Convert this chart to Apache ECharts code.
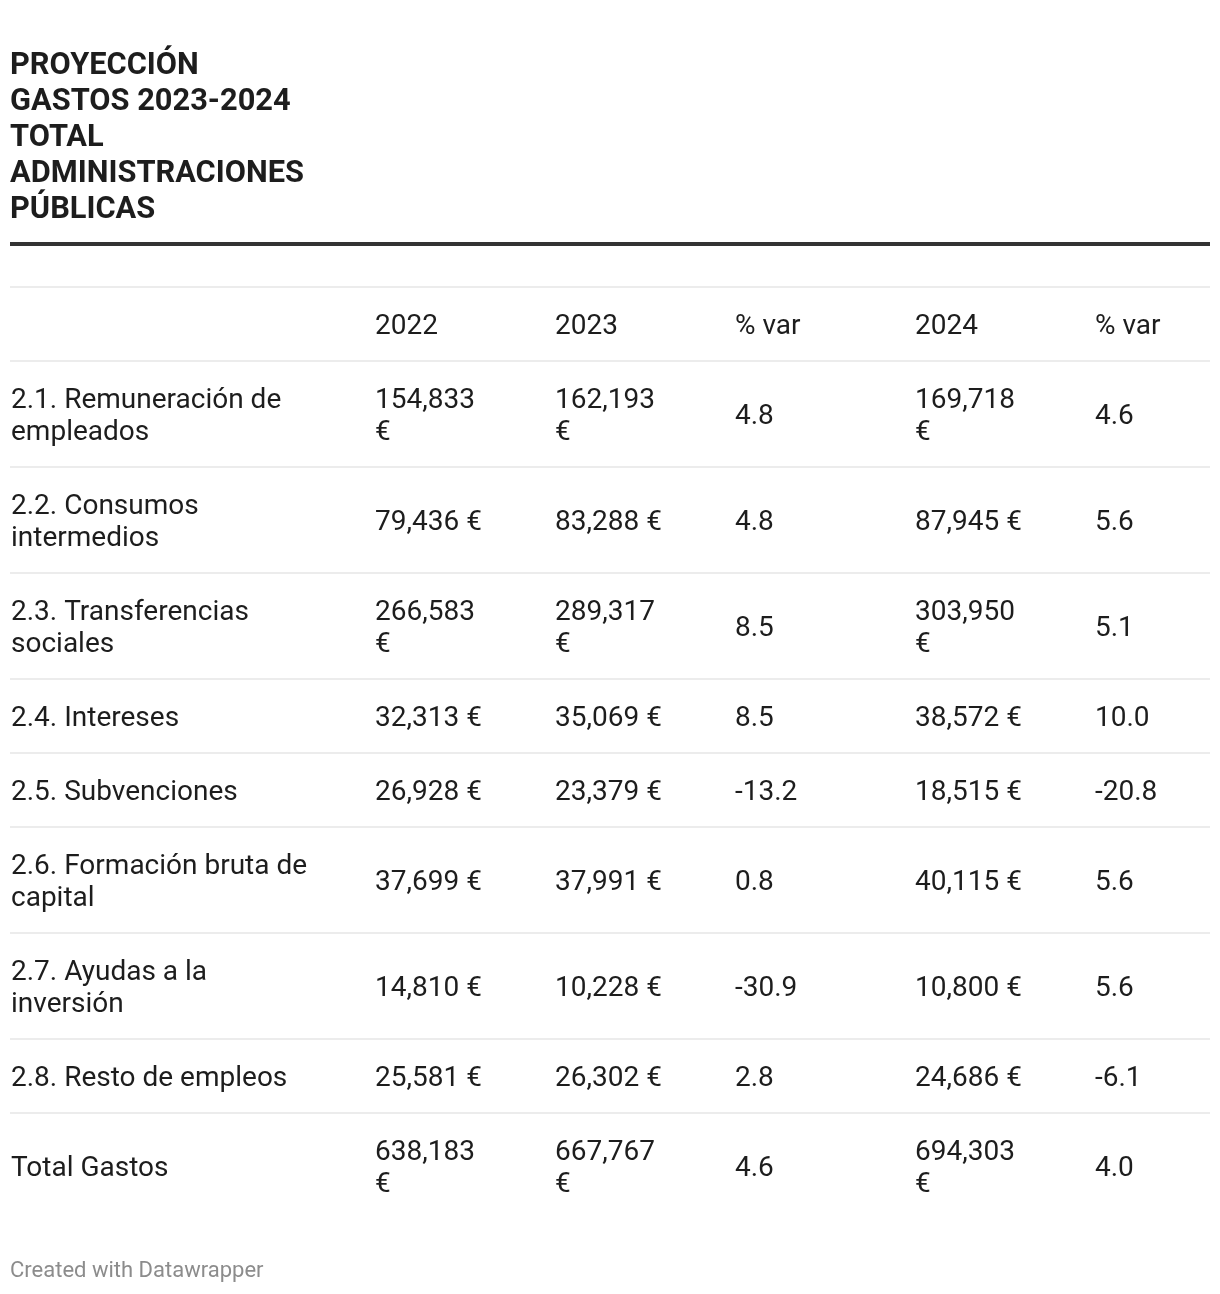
<!DOCTYPE html>
<html><head><meta charset="utf-8">
<script src="https://cdn.jsdelivr.net/npm/echarts@6/dist/echarts.min.js"></script>
<style>html,body{margin:0;padding:0;background:#fff}#c{width:1220px;height:1294px}</style>
</head><body><div id="c"></div>
<script>
// ---- data ----
const titleText = 'PROYECCIÓN\nGASTOS 2023-2024\nTOTAL\nADMINISTRACIONES\nPÚBLICAS';
const headers = ['', '2022', '2023', '% var', '2024', '% var'];
const categories = [
  '2.1. Remuneración de empleados',
  '2.2. Consumos intermedios',
  '2.3. Transferencias sociales',
  '2.4. Intereses',
  '2.5. Subvenciones',
  '2.6. Formación bruta de capital',
  '2.7. Ayudas a la inversión',
  '2.8. Resto de empleos',
  'Total Gastos'
];
const values2022 = [154833, 79436, 266583, 32313, 26928, 37699, 14810, 25581, 638183];
const values2023 = [162193, 83288, 289317, 35069, 23379, 37991, 10228, 26302, 667767];
const var2023    = [4.8, 4.8, 8.5, 8.5, -13.2, 0.8, -30.9, 2.8, 4.6];
const values2024 = [169718, 87945, 303950, 38572, 18515, 40115, 10800, 24686, 694303];
const var2024    = [4.6, 5.6, 5.1, 10.0, -20.8, 5.6, 5.6, -6.1, 4.0];
const footerText = 'Created with Datawrapper';

// ---- layout / style ----
const FONT_SIZE = 28, LINE_H = 32, ROW_PAD = 21, TEXT_DY = 3;
const FONT = FONT_SIZE + 'px Roboto';
const TABLE_W = 1200;
const colX = [1, 365, 545, 725, 905, 1085];
const colWrap = [305, 112, 112, 112, 112, 112];
const TEXT_COLOR = '#1d1d1d';
const RULE_COLOR = '#e6e6e6';

const fmtEur = v => v.toLocaleString('en-US') + ' €';
const fmtPct = v => v.toFixed(1);

const ctx = document.createElement('canvas').getContext('2d');
ctx.font = FONT;
function wrap(text, maxW) {
  if (!text) return '';
  const words = text.split(' ');
  const lines = [];
  let cur = '';
  words.forEach(w => {
    const test = cur ? cur + ' ' + w : w;
    if (cur && ctx.measureText(test).width > maxW) { lines.push(cur); cur = w; }
    else cur = test;
  });
  if (cur) lines.push(cur);
  return lines.join('\n');
}

const rows = [headers].concat(categories.map((c, i) => [
  c, fmtEur(values2022[i]), fmtEur(values2023[i]), fmtPct(var2023[i]),
  fmtEur(values2024[i]), fmtPct(var2024[i])
]));
const wrapped = rows.map(r => r.map((t, c) => wrap(t, colWrap[c])));
let acc = 0;
const rowData = wrapped.map((r, i) => {
  const n = Math.max(1, ...r.map(t => t ? t.split('\n').length : 1));
  const top = acc;
  acc += ROW_PAD * 2 + LINE_H * n;
  return [0, top, acc, i];
});
const TOTAL_H = acc;

const chart = echarts.init(document.getElementById('c'), null, {renderer: 'canvas'});
chart.setOption({
  backgroundColor: '#fff',
  animation: false,
  title: [
    { text: titleText, left: 10, top: 48, padding: 0,
      textStyle: { fontFamily: 'Roboto', fontWeight: 'bold', fontSize: 30.8, lineHeight: 36, color: TEXT_COLOR } },
    { text: footerText, left: 10, top: 1259, padding: 0,
      textStyle: { fontFamily: 'Roboto', fontWeight: 'normal', fontSize: 22, lineHeight: 24, color: '#8c8c8c' } }
  ],
  graphic: [
    { type: 'rect', shape: { x: 10, y: 242, width: 1200, height: 4 }, style: { fill: '#333' } }
  ],
  grid: { left: 10, top: 287, width: TABLE_W, height: TOTAL_H },
  xAxis: { type: 'value', min: 0, max: TABLE_W, show: false },
  yAxis: { type: 'value', min: 0, max: TOTAL_H, inverse: true, show: false },
  series: [{
    type: 'custom',
    clip: false,
    encode: { x: 0, y: [1, 2] },
    data: rowData,
    renderItem: function (params, api) {
      const top = api.value(1), bot = api.value(2), idx = api.value(3);
      const pTop = api.coord([0, top]);
      const pBot = api.coord([0, bot]);
      const pRight = api.coord([TABLE_W, top]);
      const mid = (pTop[1] + pBot[1]) / 2 + TEXT_DY;
      const children = [{
        type: 'line',
        shape: { x1: pTop[0], y1: pTop[1], x2: pRight[0], y2: pTop[1] },
        style: { stroke: RULE_COLOR, lineWidth: 1.5 }
      }];
      wrapped[idx].forEach((t, c) => {
        if (!t) return;
        children.push({
          type: 'text',
          x: api.coord([colX[c], top])[0],
          y: mid,
          style: { text: t, font: FONT, fill: TEXT_COLOR, align: 'left', verticalAlign: 'middle', lineHeight: LINE_H }
        });
      });
      return { type: 'group', children };
    }
  }]
});
</script>
</body></html>
